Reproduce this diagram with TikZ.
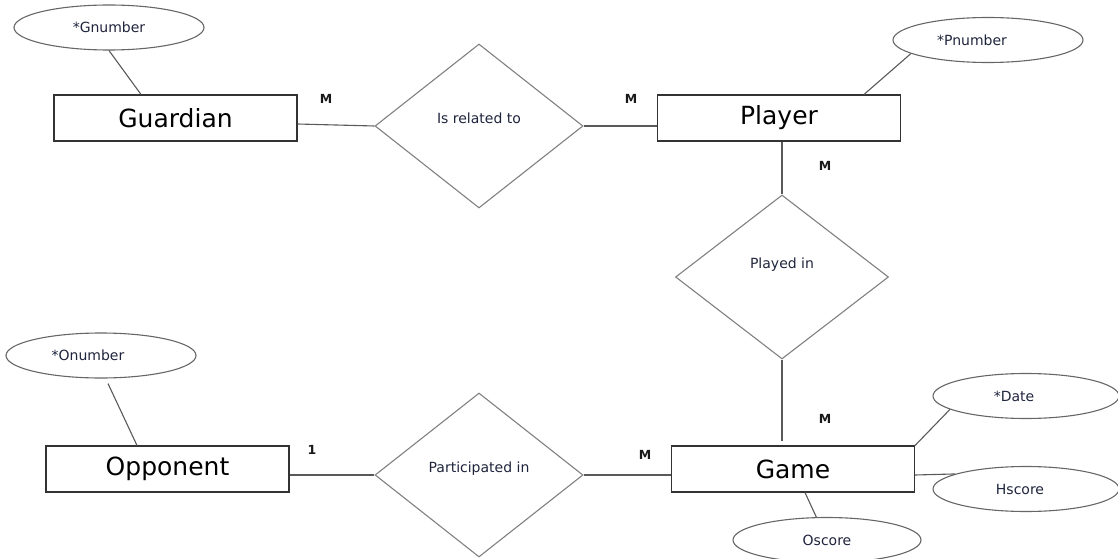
\documentclass[tikz,border=0pt]{standalone}
\usepackage{fontspec}
\setmainfont{DejaVu Sans}
\usetikzlibrary{shapes.geometric,calc}
\definecolor{txtsmall}{RGB}{30,36,60}
\begin{document}
\begin{tikzpicture}[x=1pt,y=-1pt,
  entity/.style={draw=black!80,line width=1.1pt,rectangle,minimum width=243pt,minimum height=46pt,inner sep=0pt,font=\fontsize{25}{29}\selectfont},
  attr/.style={draw=black!60,line width=1.1pt,ellipse,minimum width=190pt,minimum height=45pt,inner sep=0pt,text=txtsmall,font=\fontsize{14}{16}\selectfont},
  rel/.style={draw=black!50,line width=1.1pt,diamond,minimum width=208pt,minimum height=164pt,inner sep=0pt},
  rtext/.style={text=txtsmall,font=\fontsize{14}{16}\selectfont},
  card/.style={font=\bfseries\fontsize{12.5}{15}\selectfont,text=black!90},
  conn/.style={draw=black!65,line width=1.1pt}]
\useasboundingbox (0,0) rectangle (1118,559);
% entities
\node[entity] (guard) at (175.5,118) {Guardian};
\node[entity] (player) at (779,118) {Player};
\node[entity] (game) at (793,469) {Game};
\node[entity] (opp) at (167.5,469) {Opponent};
% attributes
\node[attr] (gnum) at (109,27.5) {*Gnumber};
\node[attr,label={[rtext,xshift=-16pt]center:*Pnumber}] (pnum) at (988,40) {};
\node[attr,label={[rtext,xshift=-13pt]center:*Onumber}] (onum) at (101,355.5) {};
\node[attr,minimum width=186pt,label={[rtext,xshift=-12pt]center:*Date}] (date) at (1026,396) {};
\node[attr,minimum width=186pt,label={[rtext,xshift=-6pt]center:Hscore}] (hscore) at (1026,489) {};
\node[attr,minimum width=188pt] (oscore) at (827,540) {Oscore};
% relationships
\node[rel,label={[rtext,yshift=8pt]center:Is related to}] (rel1) at (479,126) {};
\node[rel,minimum width=213pt,label={[rtext,yshift=12pt]center:Played in}] (played) at (782,277) {};
\node[rel,label={[rtext,yshift=6pt]center:Participated in}] (part) at (479,475) {};
% cardinalities
\node[card] (c1) at (326,99) {M};
\node[card] (c2) at (631,99) {M};
\node[card] (c3) at (825,166) {M};
\node[card] (c4) at (825,419) {M};
\node[card] (c5) at (645,455) {M};
\node[card] (c6) at (312,450) {1};
% connectors
\draw[conn] (gnum.south) -- ([xshift=-34.5pt]guard.north);
\draw[conn] (pnum.190) -- ([xshift=85pt]player.north);
\draw[conn] ([shift={(7pt,-5pt)}]onum.south) -- ([xshift=-30.5pt]opp.north);
\draw[conn] ([yshift=-6pt]guard.east) -- (rel1.west);
\draw[conn] (rel1.east) -- ([yshift=-8pt]player.west);
\draw[conn] (played.north |- player.south) -- (played.north);
\draw[conn] (played.south) -- ([yshift=4pt]played.south |- game.north);
\draw[conn] ([yshift=-6pt]opp.east) -- (part.west);
\draw[conn] (part.east) -- ([yshift=-6pt]game.west);
\draw[conn] (game.north east) -- (date.190);
\draw[conn] ([yshift=-6pt]game.east) -- (hscore.168);
\draw[conn] ([xshift=12pt]game.south) -- (oscore.115);
\end{tikzpicture}
\end{document}
